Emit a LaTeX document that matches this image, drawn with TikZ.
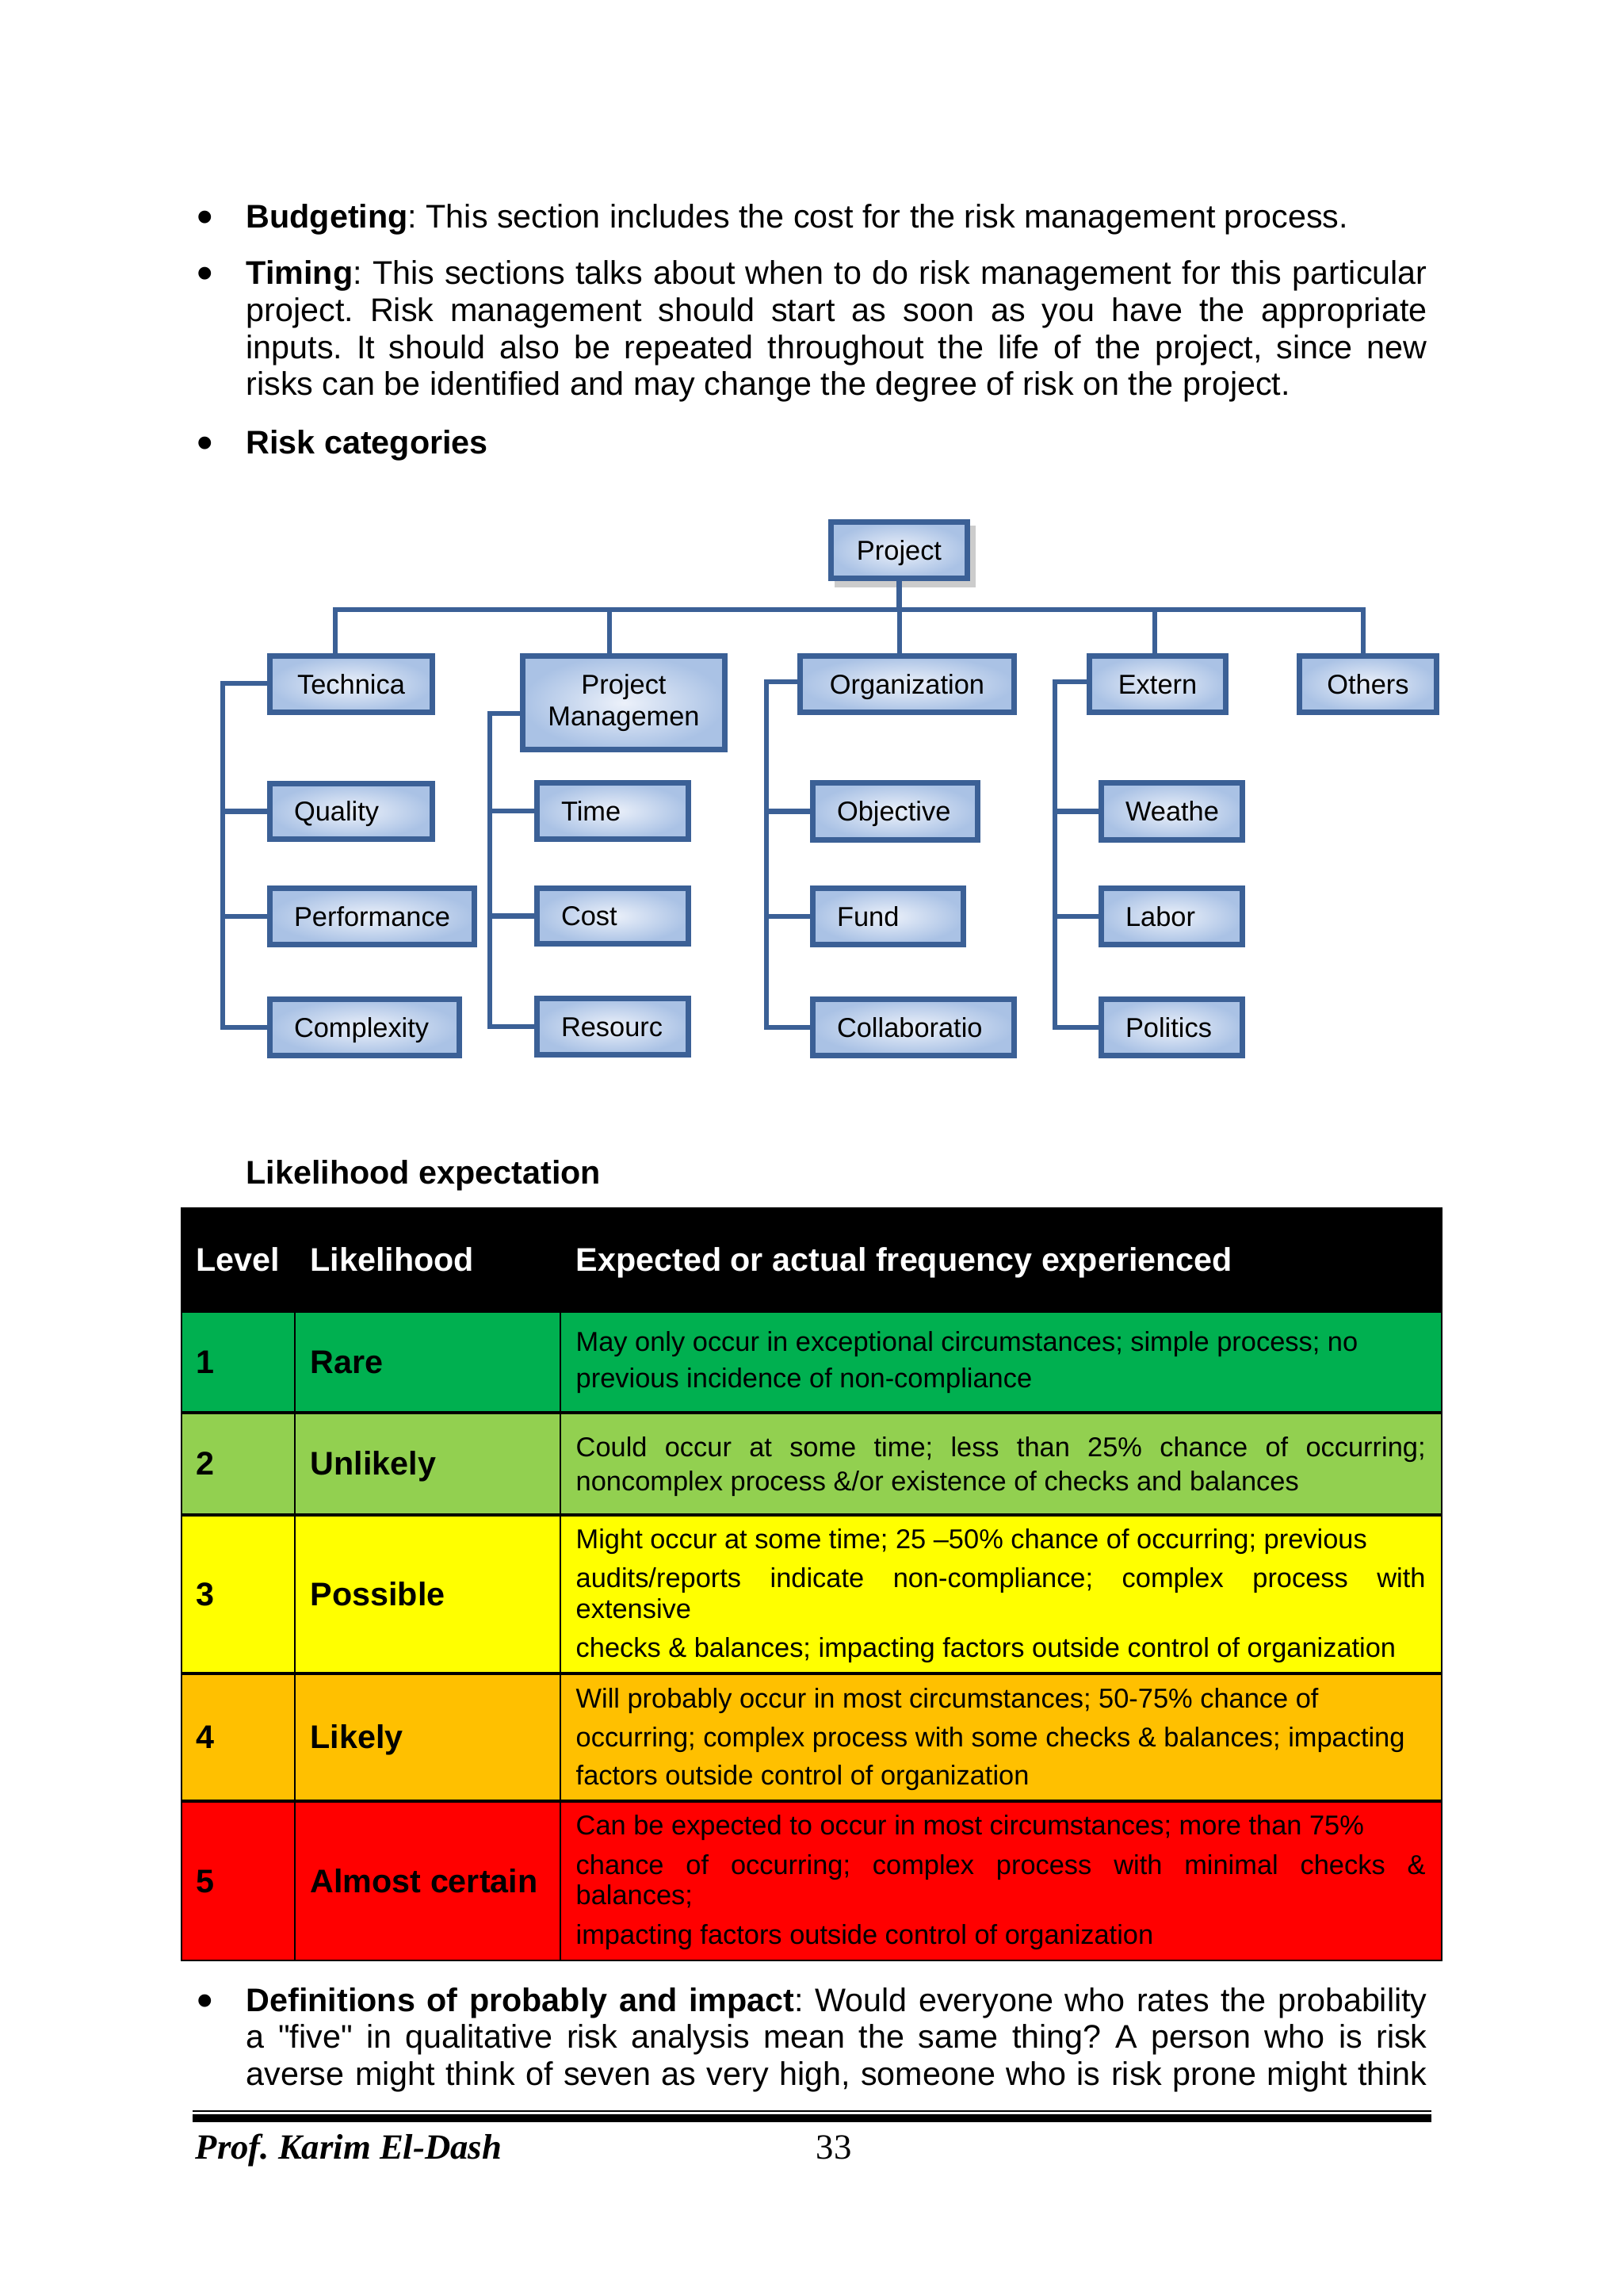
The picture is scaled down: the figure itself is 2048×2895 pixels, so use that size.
\documentclass[tikz,border=0pt]{standalone}
\usepackage{fontspec}
\setmainfont{Liberation Sans}[Ligatures=TeXOff]
\newfontfamily\serifft{Liberation Serif}
\definecolor{boxblue}{RGB}{59,96,150}
\definecolor{boxlight}{RGB}{236,241,250}
\definecolor{boxdark}{RGB}{170,194,229}
\definecolor{rgreen}{RGB}{0,176,80}
\definecolor{rlgreen}{RGB}{146,208,80}
\definecolor{ryellow}{RGB}{255,255,0}
\definecolor{rorange}{RGB}{255,192,0}
\definecolor{rred}{RGB}{255,0,0}
\tikzset{
  orgbox/.style={draw=boxblue, line width=2pt, inner xsep=8.87pt, inner ysep=0pt,
    inner color=boxlight, outer color=boxdark,
    text height=7.2pt, text depth=0pt,
    font=\fontsize{10}{11.6}\selectfont},
  conn/.style={draw=boxblue, line width=1.95pt},
  body/.style={anchor=base west, inner sep=0pt, font=\fontsize{12}{13.8}\selectfont},
  bul/.style={anchor=base, inner sep=0pt, font=\fontsize{17}{18}\selectfont},
  cell/.style={anchor=base west, inner sep=0pt, font=\bfseries\fontsize{12}{13.8}\selectfont},
  hcell/.style={cell, text=white},
  desc/.style={anchor=base west, inner sep=0pt, font=\fontsize{10}{12}\selectfont},
  tline/.style={draw=black, line width=0.7pt},
}
\newcommand\orgbox[8]{%
  \pgfmathsetlengthmacro\bxw{(#4-#2-7)*0.29066pt-17.74pt}%
  \pgfmathsetlengthmacro\bxh{(#5-#3-7)*0.29066pt}%
  \pgfmathsetlengthmacro\bxmw{(#4-#2-7)*0.29066pt}%
  \node[orgbox,#8,minimum width=\bxmw,minimum height=\bxh] (#1) at ({(#2+#4)/2},{(#3+#5)/2}) {\makebox[\bxw][#6]{#7}};%
}
\begin{document}
\frenchspacing
\begin{tikzpicture}[x=0.29066pt,y=-0.29066pt]
\useasboundingbox (0,0) rectangle (2048,2895);
\fill[white] (0,0) rectangle (2048,2895);

% ---------- top text ----------
\node[bul] (bu1) at (259,293) {\textbullet};
\node[body] (bud) at (310,287) {\textbf{Budgeting}: This section includes the cost for the risk management process.};
\node[bul] (bu2) at (259,364) {\textbullet};
\node[body] (t1) at (310,358) {\makebox[433.1pt][s]{\textbf{Timing}: This sections talks about when to do risk management for this particular}};
\node[body] (t2) at (310,405) {\makebox[433.1pt][s]{project. Risk management should start as soon as you have the appropriate}};
\node[body] (t3) at (310,452) {\makebox[433.1pt][s]{inputs. It should also be repeated throughout the life of the project, since new}};
\node[body] (t4) at (310,498) {risks can be identified and may change the degree of risk on the project.};
\node[bul] (bu3) at (259,578) {\textbullet};
\node[body] (rc) at (310,572) {\textbf{Risk categories}};

% ---------- org chart ----------
\fill[gray!40] (1053,663) rectangle (1231,741);
\orgbox{proj}{1045}{655}{1224}{733}{c}{Project}{}
\orgbox{tech}{337}{824}{549}{902}{c}{Technica}{}
\pgfmathsetlengthmacro\bxmw{(918-656-7)*0.29066pt}%
\pgfmathsetlengthmacro\bxh{(949-824-7)*0.29066pt}%
\node[orgbox, align=center, text height=16.6pt, text depth=0pt, minimum width=\bxmw, minimum height=\bxh] (pm) at ({(656+918)/2},{(824+949)/2}) {Project\\Managemen};
\orgbox{org}{1006}{824}{1283}{902}{c}{Organization}{}
\orgbox{ext}{1371}{824}{1550}{902}{c}{Extern}{}
\orgbox{oth}{1636}{824}{1816}{902}{c}{Others}{}

\orgbox{qual}{337}{985}{549}{1062}{l}{Quality}{}
\orgbox{perf}{337}{1117}{602}{1195}{l}{Performance}{}
\orgbox{cmpx}{337}{1257}{583}{1335}{l}{Complexity}{}
\orgbox{time}{674}{984}{872}{1062}{l}{Time}{}
\orgbox{cost}{674}{1117}{872}{1194}{l}{Cost}{}
\orgbox{res}{674}{1256}{872}{1334}{l}{Resourc}{}
\orgbox{obj}{1022}{984}{1237}{1063}{l}{Objective}{}
\orgbox{fund}{1022}{1117}{1219}{1195}{l}{Fund}{}
\orgbox{coll}{1022}{1257}{1283}{1335}{l}{Collaboratio}{}
\orgbox{wea}{1386}{984}{1571}{1063}{l}{Weathe}{}
\orgbox{lab}{1386}{1117}{1571}{1195}{l}{Labor}{}
\orgbox{pol}{1386}{1257}{1571}{1335}{l}{Politics}{}

\coordinate (bar1) at (423,769);
\coordinate (bar2) at (769,769);
\coordinate (bar3) at (1135,769);
\coordinate (bar4) at (1457,769);
\coordinate (bar5) at (1720,769);
\draw[conn] (proj.south) -- (proj.south |- bar1);
\draw[conn] (bar1 |- tech.north) -- (bar1) -- (bar5) -- (bar5 |- oth.north);
\draw[conn] (bar2) -- (bar2 |- pm.north);
\draw[conn] (bar3) -- (bar3 |- org.north);
\draw[conn] (bar4) -- (bar4 |- ext.north);

\coordinate (v1) at (281,862);
\draw[conn] (tech.west |- v1) -- (v1) -- (v1 |- cmpx.west) -- (cmpx.west);
\draw[conn] (v1 |- qual.west) -- (qual.west);
\draw[conn] (v1 |- perf.west) -- (perf.west);
\coordinate (v2) at (618,900);
\draw[conn] (pm.west |- v2) -- (v2) -- (v2 |- res.west) -- (res.west);
\draw[conn] (v2 |- time.west) -- (time.west);
\draw[conn] (v2 |- cost.west) -- (cost.west);
\coordinate (v3) at (967,860);
\draw[conn] (org.west |- v3) -- (v3) -- (v3 |- coll.west) -- (coll.west);
\draw[conn] (v3 |- obj.west) -- (obj.west);
\draw[conn] (v3 |- fund.west) -- (fund.west);
\coordinate (v4) at (1331,860);
\draw[conn] (ext.west |- v4) -- (v4) -- (v4 |- pol.west) -- (pol.west);
\draw[conn] (v4 |- wea.west) -- (wea.west);
\draw[conn] (v4 |- lab.west) -- (lab.west);

% ---------- table ----------
\node[body] (lh) at (310,1493) {\textbf{Likelihood expectation}};
\fill[black] (229,1524) rectangle (1819,1654);
\fill[rgreen] (229,1654) rectangle (1819,1782);
\fill[rlgreen] (229,1782) rectangle (1819,1911);
\fill[ryellow] (229,1911) rectangle (1819,2111);
\fill[rorange] (229,2111) rectangle (1819,2272);
\fill[rred] (229,2272) rectangle (1819,2473);
\draw[tline] (229,1524) rectangle (1819,2473);
\foreach \yy in {1654,1782,1911,2111,2272} {\draw[tline, line width=0.9pt] (229,\yy) -- (1819,\yy);}
\draw[tline] (372,1654) -- (372,2473);
\draw[tline] (707,1654) -- (707,2473);

\node[hcell] (h1) at (247,1603) {Level};
\node[hcell] (h2) at (391,1603) {Likelihood};
\node[hcell] (h3) at (726,1603) {Expected or actual frequency experienced};

\node[cell] (n1) at (247,1732) {1};
\node[cell] (l1) at (391,1732) {Rare};
\node[desc] (d1a) at (726,1704) {May only occur in exceptional circumstances; simple process; no};
\node[desc] (d1b) at (726,1750) {previous incidence of non-compliance};

\node[cell] (n2) at (247,1860) {2};
\node[cell] (l2) at (391,1860) {Unlikely};
\node[desc] (d2a) at (726,1837) {\makebox[311.6pt][s]{Could occur at some time; less than 25\% chance of occurring;}};
\node[desc] (d2b) at (726,1880) {noncomplex process \&/or existence of checks and balances};

\node[cell] (n3) at (247,2025) {3};
\node[cell] (l3) at (391,2025) {Possible};
\node[desc] (d3a) at (726,1953) {Might occur at some time; 25 –50\% chance of occurring; previous};
\node[desc] (d3b) at (726,2002) {\makebox[311.6pt][s]{audits/reports indicate non-compliance; complex process with}};
\node[desc] (d3c) at (726,2041) {extensive};
\node[desc] (d3d) at (726,2090) {checks \& balances; impacting factors outside control of organization};

\node[cell] (n4) at (247,2205) {4};
\node[cell] (l4) at (391,2205) {Likely};
\node[desc] (d4a) at (726,2154) {Will probably occur in most circumstances; 50-75\% chance of};
\node[desc] (d4b) at (726,2203) {occurring; complex process with some checks \& balances; impacting};
\node[desc] (d4c) at (726,2251) {factors outside control of organization};

\node[cell] (n5) at (247,2387) {5};
\node[cell] (l5) at (391,2387) {Almost certain};
\node[desc] (d5a) at (726,2314) {Can be expected to occur in most circumstances; more than 75\%};
\node[desc] (d5b) at (726,2364) {\makebox[311.6pt][s]{chance of occurring; complex process with minimal checks \&}};
\node[desc] (d5c) at (726,2402) {balances;};
\node[desc] (d5d) at (726,2452) {impacting factors outside control of organization};

% ---------- bottom text ----------
\node[bul] (bu4) at (259,2543) {\textbullet};
\node[body] (df1) at (310,2537) {\makebox[433.1pt][s]{\textbf{Definitions of probably and impact}: Would everyone who rates the probability}};
\node[body] (df2) at (310,2583) {\makebox[433.1pt][s]{a "five" in qualitative risk analysis mean the same thing? A person who is risk}};
\node[body] (df3) at (310,2630) {\makebox[433.1pt][s]{averse might think of seven as very high, someone who is risk prone might think}};

% ---------- footer ----------
\draw[line width=0.6pt] (243,2663) -- (1806,2663);
\draw[line width=2.9pt] (243,2672) -- (1806,2672);
\node[anchor=base west, inner sep=0pt, font=\serifft\bfseries\itshape\fontsize{13}{15}\selectfont] (auth) at (246,2723) {Prof. Karim El-Dash};
\node[anchor=base west, inner sep=0pt, font=\serifft\fontsize{13}{15}\selectfont] (pg) at (1029,2723) {33};
\end{tikzpicture}
\end{document}
